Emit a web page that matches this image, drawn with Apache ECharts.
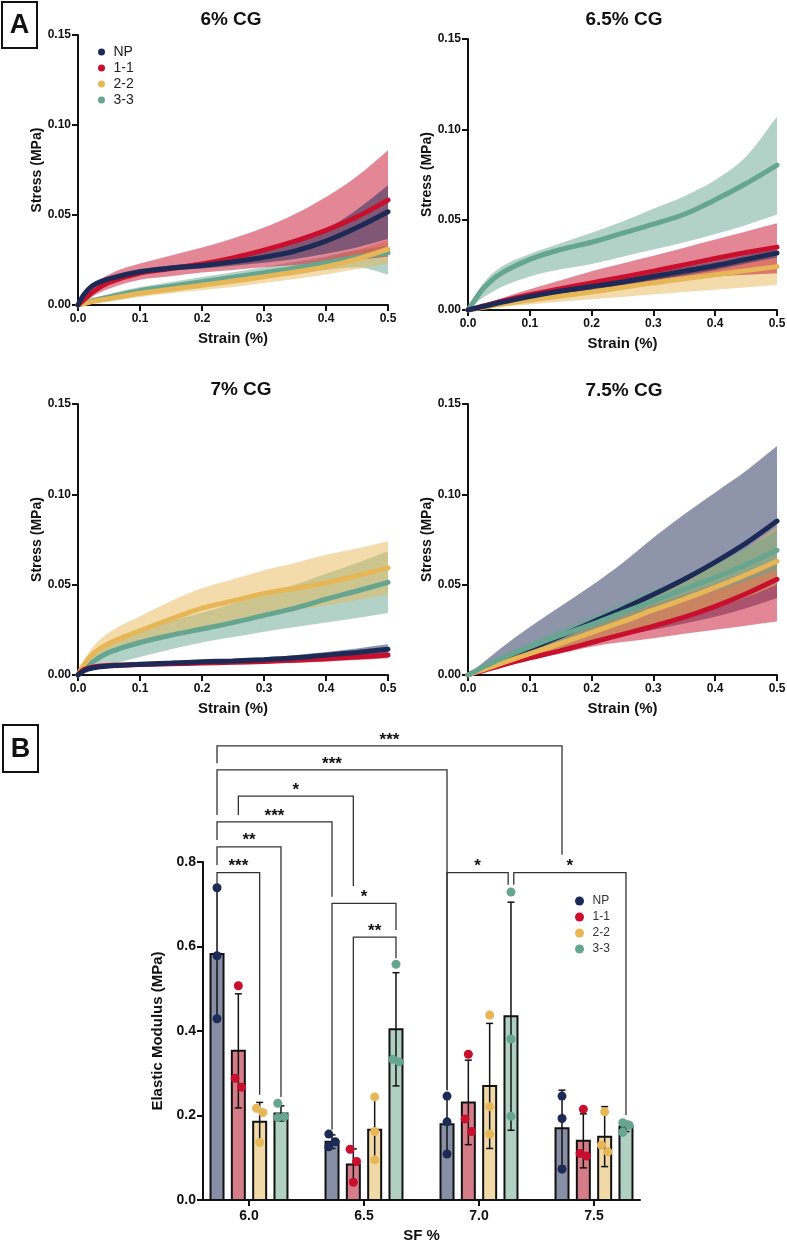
<!DOCTYPE html>
<html>
<head>
<meta charset="utf-8">
<script src="https://cdn.jsdelivr.net/npm/echarts@6/dist/echarts.min.js"></script>
<style>
  html, body { margin: 0; padding: 0; background: #fff; }
  #chart { width: 787px; height: 1243px; }
</style>
</head>
<body>
<div id="chart"></div>
<script>
// ---------- panel A : stress-strain curves (mean, upper, lower of the SD band) ----------
const strain = [0, 0.01, 0.025, 0.05, 0.1, 0.15, 0.2, 0.25, 0.3, 0.35, 0.4, 0.45, 0.5];

// 6% CG
const s6_np    = [0, 0.006, 0.011, 0.0145, 0.0185, 0.0205, 0.022, 0.024, 0.0265, 0.030, 0.0355, 0.043, 0.0518];
const s6_np_hi = [0, 0.007, 0.0125, 0.016, 0.020, 0.022, 0.0237, 0.0262, 0.0295, 0.0345, 0.042, 0.053, 0.0665];
const s6_np_lo = [0, 0.005, 0.0095, 0.013, 0.017, 0.019, 0.0203, 0.0218, 0.0235, 0.0255, 0.0285, 0.032, 0.0366];
const s6_11    = [0, 0.003, 0.0075, 0.0125, 0.0178, 0.0203, 0.0228, 0.0262, 0.0305, 0.0355, 0.0415, 0.049, 0.0583];
const s6_11_hi = [0, 0.0045, 0.011, 0.017, 0.023, 0.0275, 0.032, 0.037, 0.043, 0.0505, 0.060, 0.0715, 0.086];
const s6_11_lo = [0, 0.0015, 0.005, 0.009, 0.014, 0.016, 0.018, 0.0195, 0.021, 0.0222, 0.0233, 0.025, 0.027];
const s6_22    = [0, 0.0008, 0.002, 0.0035, 0.0065, 0.0088, 0.011, 0.0133, 0.0157, 0.0183, 0.0213, 0.0255, 0.031];
const s6_22_hi = [0, 0.0012, 0.003, 0.005, 0.0085, 0.0112, 0.0138, 0.0165, 0.0192, 0.0222, 0.0257, 0.0305, 0.036];
const s6_22_lo = [0, 0.0004, 0.001, 0.002, 0.0045, 0.0065, 0.0083, 0.010, 0.0122, 0.0145, 0.017, 0.020, 0.023];
const s6_33    = [0, 0.001, 0.0025, 0.0045, 0.008, 0.0105, 0.013, 0.0155, 0.018, 0.0205, 0.0235, 0.0265, 0.029];
const s6_33_hi = [0, 0.0015, 0.0035, 0.006, 0.010, 0.0128, 0.0155, 0.0182, 0.021, 0.024, 0.027, 0.0305, 0.033];
const s6_33_lo = [0, 0.0005, 0.0015, 0.003, 0.006, 0.0082, 0.0105, 0.0128, 0.015, 0.017, 0.0195, 0.021, 0.017];

// 6.5% CG
const s65_np    = [0, 0.0008, 0.002, 0.004, 0.0075, 0.0105, 0.013, 0.0155, 0.0185, 0.0215, 0.0245, 0.028, 0.0315];
const s65_np_hi = [0, 0.001, 0.0025, 0.005, 0.009, 0.012, 0.015, 0.0175, 0.0205, 0.0237, 0.0268, 0.0303, 0.034];
const s65_np_lo = [0, 0.0006, 0.0015, 0.003, 0.006, 0.009, 0.011, 0.0135, 0.0165, 0.0193, 0.0222, 0.0257, 0.029];
const s65_11    = [0, 0.0008, 0.0022, 0.0045, 0.0085, 0.0118, 0.015, 0.0182, 0.0215, 0.025, 0.0285, 0.0318, 0.0348];
const s65_11_hi = [0, 0.001, 0.003, 0.006, 0.0115, 0.0165, 0.0215, 0.0258, 0.030, 0.0345, 0.039, 0.0435, 0.048];
const s65_11_lo = [0, 0.0005, 0.0013, 0.003, 0.006, 0.0085, 0.011, 0.013, 0.015, 0.0168, 0.0185, 0.0195, 0.0204];
const s65_22    = [0, 0.0006, 0.0015, 0.003, 0.0055, 0.0078, 0.010, 0.0125, 0.015, 0.0173, 0.0195, 0.0218, 0.024];
const s65_22_hi = [0, 0.0009, 0.0022, 0.0045, 0.0082, 0.0112, 0.014, 0.017, 0.020, 0.0228, 0.0253, 0.0272, 0.029];
const s65_22_lo = [0, 0.0003, 0.0008, 0.0015, 0.003, 0.0045, 0.006, 0.0072, 0.0087, 0.010, 0.0112, 0.0126, 0.0139];
const s65_33    = [0, 0.005, 0.012, 0.0195, 0.028, 0.0335, 0.0375, 0.0425, 0.0475, 0.053, 0.061, 0.070, 0.0802];
const s65_33_hi = [0, 0.0065, 0.015, 0.023, 0.031, 0.037, 0.0428, 0.049, 0.056, 0.063, 0.072, 0.085, 0.107];
const s65_33_lo = [0, 0.003, 0.007, 0.012, 0.0185, 0.0225, 0.0255, 0.0295, 0.0335, 0.0375, 0.042, 0.047, 0.0528];

// 7% CG
const s7_np    = [0, 0.0025, 0.004, 0.005, 0.006, 0.0066, 0.0073, 0.0078, 0.0085, 0.0095, 0.011, 0.0125, 0.0143];
const s7_np_hi = [0, 0.003, 0.0047, 0.0058, 0.0068, 0.0075, 0.0083, 0.009, 0.0098, 0.011, 0.0127, 0.0147, 0.017];
const s7_np_lo = [0, 0.002, 0.0033, 0.0042, 0.0052, 0.0057, 0.0063, 0.0068, 0.0073, 0.008, 0.0093, 0.0105, 0.012];
const s7_11    = [0, 0.003, 0.0045, 0.0053, 0.0058, 0.0062, 0.0066, 0.007, 0.0075, 0.0082, 0.009, 0.010, 0.011];
const s7_11_hi = [0, 0.0035, 0.0052, 0.006, 0.0066, 0.0071, 0.0076, 0.0081, 0.0087, 0.0096, 0.0106, 0.0118, 0.0128];
const s7_11_lo = [0, 0.0025, 0.0038, 0.0046, 0.005, 0.0053, 0.0056, 0.0059, 0.0063, 0.0068, 0.0074, 0.0083, 0.0093];
const s7_22    = [0, 0.006, 0.012, 0.0175, 0.0245, 0.031, 0.037, 0.041, 0.0452, 0.048, 0.051, 0.055, 0.0593];
const s7_22_hi = [0, 0.008, 0.016, 0.0235, 0.0325, 0.041, 0.048, 0.053, 0.058, 0.062, 0.0665, 0.070, 0.074];
const s7_22_lo = [0, 0.004, 0.008, 0.012, 0.0175, 0.022, 0.0265, 0.030, 0.033, 0.036, 0.0385, 0.0415, 0.0445];
const s7_33    = [0, 0.003, 0.0075, 0.0125, 0.018, 0.022, 0.0255, 0.029, 0.033, 0.037, 0.042, 0.0465, 0.0513];
const s7_33_hi = [0, 0.005, 0.011, 0.0175, 0.0245, 0.030, 0.0345, 0.0395, 0.0445, 0.050, 0.056, 0.062, 0.0685];
const s7_33_lo = [0, 0.0008, 0.0025, 0.0055, 0.010, 0.0142, 0.018, 0.021, 0.024, 0.0265, 0.029, 0.0315, 0.0343];

// 7.5% CG
const s75_np    = [0, 0.0015, 0.0036, 0.0072, 0.0145, 0.0215, 0.029, 0.0365, 0.0445, 0.053, 0.0625, 0.073, 0.0852];
const s75_np_hi = [0, 0.0028, 0.007, 0.014, 0.0265, 0.038, 0.0495, 0.062, 0.076, 0.089, 0.101, 0.113, 0.1267];
const s75_np_lo = [0, 0.0012, 0.003, 0.006, 0.0115, 0.015, 0.0185, 0.0218, 0.025, 0.0285, 0.0322, 0.037, 0.0426];
const s75_11    = [0, 0.0012, 0.0025, 0.005, 0.0095, 0.0135, 0.018, 0.0225, 0.027, 0.032, 0.038, 0.045, 0.053];
const s75_11_hi = [0, 0.002, 0.0045, 0.0085, 0.016, 0.0225, 0.0285, 0.034, 0.039, 0.0445, 0.0505, 0.057, 0.064];
const s75_11_lo = [0, 0.0008, 0.002, 0.004, 0.0083, 0.012, 0.0157, 0.0182, 0.0204, 0.0228, 0.025, 0.0273, 0.0296];
const s75_22    = [0, 0.0013, 0.003, 0.006, 0.0118, 0.0175, 0.0235, 0.0295, 0.036, 0.042, 0.0485, 0.0555, 0.063];
const s75_22_hi = [0, 0.0018, 0.0045, 0.0085, 0.016, 0.023, 0.030, 0.0375, 0.045, 0.053, 0.061, 0.070, 0.082];
const s75_22_lo = [0, 0.001, 0.0022, 0.0045, 0.009, 0.0135, 0.018, 0.0225, 0.0275, 0.0325, 0.0375, 0.043, 0.050];
const s75_33    = [0, 0.0018, 0.0045, 0.0085, 0.0155, 0.022, 0.028, 0.0345, 0.041, 0.0475, 0.054, 0.061, 0.069];
const s75_33_hi = [0, 0.0022, 0.0055, 0.010, 0.018, 0.0255, 0.0325, 0.040, 0.047, 0.054, 0.0615, 0.070, 0.080];
const s75_33_lo = [0, 0.0014, 0.0035, 0.007, 0.013, 0.0185, 0.0235, 0.029, 0.035, 0.041, 0.0465, 0.052, 0.058];

// ---------- panel B : elastic modulus ----------
const sfGroups = [6.0, 6.5, 7.0, 7.5];
const modNP  = [0.582, 0.138, 0.179, 0.170];
const sdNP   = [0.155, 0.016, 0.068, 0.090];
const ptsNP  = [[0.739, 0.578, 0.429], [0.156, 0.138, 0.126], [0.246, 0.185, 0.109], [0.246, 0.193, 0.073]];
const mod11  = [0.353, 0.084, 0.231, 0.140];
const sd11   = [0.135, 0.037, 0.100, 0.064];
const pts11  = [[0.507, 0.288, 0.267], [0.120, 0.091, 0.042], [0.345, 0.192, 0.162], [0.215, 0.110, 0.104]];
const mod22  = [0.185, 0.166, 0.270, 0.150];
const sd22   = [0.046, 0.075, 0.148, 0.071];
const pts22  = [[0.217, 0.207, 0.136], [0.244, 0.162, 0.095], [0.438, 0.221, 0.156], [0.209, 0.130, 0.114]];
const mod33  = [0.205, 0.404, 0.435, 0.174];
const sd33   = [0.018, 0.134, 0.270, 0.012];
const pts33  = [[0.229, 0.197, 0.195], [0.558, 0.333, 0.327], [0.729, 0.381, 0.198], [0.183, 0.177, 0.160]];

// significance brackets: [groupA, barA, groupB, barB, top, legA end, legB end, label]
const sigPairs = [
  [0, 0, 3, 0, 1.075, 1.034, 0.817, '***'],
  [0, 0, 2, 0, 1.018, 0.911, 0.260, '***'],
  [0, 1, 1, 1, 0.956, 0.911, 0.743, '*'],
  [0, 0, 1, 0, 0.895, 0.852, 0.718, '***'],
  [0, 0, 0, 3, 0.836, 0.793, 0.244, '**'],
  [0, 0, 0, 2, 0.775, 0.741, 0.249, '***'],
  [1, 0, 1, 3, 0.702, 0.166, 0.639, '*'],
  [1, 1, 1, 3, 0.622, 0.126, 0.572, '**'],
  [2, 0, 2, 3, 0.775, 0.260, 0.746, '*'],
  [2, 3, 3, 3, 0.775, 0.746, 0.201, '*']
];

const names = ['NP', '1-1', '2-2', '3-3'];
const lineColor = { 'NP': '#1e2a56', '1-1': '#c8102e', '2-2': '#e7b757', '3-3': '#66a58f' };
const barFill = { 'NP': '#878fa6', '1-1': '#d57c89', '2-2': '#f0d9a6', '3-3': '#b0d0c4' };
const FONT = '"Liberation Sans", Arial, sans-serif';

const curves = [
  { 'NP': [s6_np, s6_np_hi, s6_np_lo], '1-1': [s6_11, s6_11_hi, s6_11_lo], '2-2': [s6_22, s6_22_hi, s6_22_lo], '3-3': [s6_33, s6_33_hi, s6_33_lo] },
  { 'NP': [s65_np, s65_np_hi, s65_np_lo], '1-1': [s65_11, s65_11_hi, s65_11_lo], '2-2': [s65_22, s65_22_hi, s65_22_lo], '3-3': [s65_33, s65_33_hi, s65_33_lo] },
  { 'NP': [s7_np, s7_np_hi, s7_np_lo], '1-1': [s7_11, s7_11_hi, s7_11_lo], '2-2': [s7_22, s7_22_hi, s7_22_lo], '3-3': [s7_33, s7_33_hi, s7_33_lo] },
  { 'NP': [s75_np, s75_np_hi, s75_np_lo], '1-1': [s75_11, s75_11_hi, s75_11_lo], '2-2': [s75_22, s75_22_hi, s75_22_lo], '3-3': [s75_33, s75_33_hi, s75_33_lo] }
];
// drawing order in each panel (last one on top)
const drawOrder = [
  ['3-3', '2-2', '1-1', 'NP'],
  ['3-3', '2-2', '1-1', 'NP'],
  ['3-3', '2-2', '1-1', 'NP'],
  ['NP', '1-1', '2-2', '3-3']
];

const grids = [
  { left: 78, top: 35, width: 310, height: 270 },
  { left: 468, top: 39, width: 309, height: 271 },
  { left: 78, top: 404, width: 310, height: 271 },
  { left: 468, top: 404, width: 309, height: 271 },
  { left: 203, top: 862, width: 437, height: 338 }
].map(g => Object.assign({ containLabel: false, outerBoundsMode: 'none' }, g));

const axisLineStyle = { show: true, lineStyle: { color: '#111', width: 2 } };
const tickStyle = { show: true, length: 6, lineStyle: { color: '#111', width: 2 } };
const boldLabel = (size, margin) => ({ fontFamily: FONT, fontWeight: 'bold', fontSize: size, color: '#111', margin });

const xAxes = [], yAxes = [];
for (let i = 0; i < 4; i++) {
  xAxes.push({
    type: 'value', gridIndex: i, min: 0, max: 0.5, interval: 0.1,
    axisLine: axisLineStyle, axisTick: tickStyle, splitLine: { show: false },
    axisLabel: Object.assign(boldLabel(12, 8), { formatter: v => v.toFixed(1) }),
    name: 'Strain (%)', nameLocation: 'middle', nameGap: 26,
    nameTextStyle: { fontFamily: FONT, fontWeight: 'bold', fontSize: 15, color: '#111' }
  });
  yAxes.push({
    type: 'value', gridIndex: i, min: 0, max: 0.15, interval: 0.05,
    axisLine: axisLineStyle, axisTick: tickStyle, splitLine: { show: false },
    axisLabel: Object.assign(boldLabel(12, 7), { formatter: v => v.toFixed(2) }),
    name: 'Stress (MPa)', nameLocation: 'middle', nameGap: 34,
    nameTextStyle: { fontFamily: FONT, fontWeight: 'bold', fontSize: 14, color: '#111' }
  });
}
xAxes.push({
  type: 'value', gridIndex: 4, min: 5.8, max: 7.7,
  axisLine: axisLineStyle, splitLine: { show: false },
  axisTick: Object.assign({}, tickStyle, { customValues: sfGroups }),
  axisLabel: Object.assign(boldLabel(14, 9), { customValues: sfGroups, formatter: v => v.toFixed(1) }),
  name: 'SF %', nameLocation: 'middle', nameGap: 28,
  nameTextStyle: { fontFamily: FONT, fontWeight: 'bold', fontSize: 15, color: '#111' }
});
yAxes.push({
  type: 'value', gridIndex: 4, min: 0, max: 0.8, interval: 0.2,
  axisLine: axisLineStyle, axisTick: tickStyle, splitLine: { show: false },
  axisLabel: Object.assign(boldLabel(14, 7), { formatter: v => v.toFixed(1) }),
  name: 'Elastic Modulus (MPa)', nameLocation: 'middle', nameGap: 33,
  nameTextStyle: { fontFamily: FONT, fontWeight: 'bold', fontSize: 15, color: '#111' }
});

// monotone cubic through pixel points, as bezier segments (no overshoot)
function curveTo(pts) {
  const n = pts.length, s = [], m = [];
  for (let i = 0; i < n - 1; i++) s[i] = (pts[i + 1][1] - pts[i][1]) / (pts[i + 1][0] - pts[i][0]);
  m[0] = s[0]; m[n - 1] = s[n - 2];
  for (let i = 1; i < n - 1; i++) m[i] = s[i - 1] * s[i] <= 0 ? 0 : (s[i - 1] + s[i]) / 2;
  for (let i = 0; i < n - 1; i++) {
    if (s[i] === 0) { m[i] = 0; m[i + 1] = 0; continue; }
    const a = m[i] / s[i], b = m[i + 1] / s[i], h = a * a + b * b;
    if (h > 9) { const t = 3 / Math.sqrt(h); m[i] = t * a * s[i]; m[i + 1] = t * b * s[i]; }
  }
  let d = '';
  for (let i = 0; i < n - 1; i++) {
    const h = (pts[i + 1][0] - pts[i][0]) / 3;
    d += ' C' + (pts[i][0] + h) + ',' + (pts[i][1] + m[i] * h) +
         ' ' + (pts[i + 1][0] - h) + ',' + (pts[i + 1][1] - m[i + 1] * h) +
         ' ' + pts[i + 1][0] + ',' + pts[i + 1][1];
  }
  return d;
}

const series = [];

// curves: SD band as a filled path, then the mean line
curves.forEach((panel, gi) => {
  drawOrder[gi].forEach(nm => {
    const [mean, hi, lo] = panel[nm];
    const c = lineColor[nm];
    series.push({
      type: 'custom', name: nm + ' sd', xAxisIndex: gi, yAxisIndex: gi, silent: true,
      encode: { x: 0, y: [1, 2] },
      data: strain.map((s, k) => [s, lo[k], hi[k]]),
      renderItem: (params, api) => {
        if (params.dataIndex !== 0) return null;
        const up = strain.map((s, k) => api.coord([s, hi[k]]));
        const dn = strain.map((s, k) => api.coord([s, lo[k]])).reverse();
        const d = 'M' + up[0][0] + ',' + up[0][1] + curveTo(up) +
                  ' L' + dn[0][0] + ',' + dn[0][1] + curveTo(dn) + ' Z';
        return { type: 'path', shape: { pathData: d }, style: { fill: c, opacity: 0.5 } };
      }
    });
    series.push({
      type: 'line', name: nm, xAxisIndex: gi, yAxisIndex: gi,
      data: strain.map((s, k) => [s, mean[k]]), symbol: 'none', smooth: 0.3,
      itemStyle: { color: c }, lineStyle: { width: 5, color: c, cap: 'round' }
    });
  });
});

// bars with SD error bars
const slot = 0.0927;     // spacing between bars in a group (SF units)
const barW = 0.0565;     // bar width (SF units)
const jitterStep = 0.014;
const barMeans = [modNP, mod11, mod22, mod33];
const barSds = [sdNP, sd11, sd22, sd33];
const barPts = [ptsNP, pts11, pts22, pts33];
const barX = (g, k) => sfGroups[g] + (k - 1.5) * slot;

names.forEach((nm, k) => {
  series.push({
    type: 'custom', name: nm + ' bar', xAxisIndex: 4, yAxisIndex: 4, silent: true,
    encode: { x: 0, y: 1 },
    data: sfGroups.map((g, gi) => [barX(gi, k), barMeans[k][gi], barSds[k][gi]]),
    renderItem: (params, api) => {
      const x = api.value(0), m = api.value(1), sd = api.value(2);
      const w = api.size([barW, 0])[0];
      const p = api.coord([x, m]), b = api.coord([x, 0]);
      const yHi = api.coord([x, m + sd])[1], yLo = api.coord([x, Math.max(m - sd, 0)])[1];
      const cw = 3.5;
      const ls = { stroke: '#111', lineWidth: 1.5 };
      return {
        type: 'group', children: [
          { type: 'rect', shape: { x: p[0] - w / 2, y: p[1], width: w, height: b[1] - p[1] },
            style: { fill: barFill[nm], stroke: '#111', lineWidth: 2 } },
          { type: 'line', shape: { x1: p[0], y1: yHi, x2: p[0], y2: yLo }, style: ls },
          { type: 'line', shape: { x1: p[0] - cw, y1: yHi, x2: p[0] + cw, y2: yHi }, style: ls },
          { type: 'line', shape: { x1: p[0] - cw, y1: yLo, x2: p[0] + cw, y2: yLo }, style: ls }
        ]
      };
    }
  });
});

// nudge overlapping replicate dots sideways
function jitter(vals) {
  const idx = vals.map((v, i) => i).sort((a, b) => vals[b] - vals[a]);
  const out = vals.map(() => 0);
  for (let j = 1; j < idx.length; j++) {
    if (Math.abs(vals[idx[j]] - vals[idx[j - 1]]) < 0.035) {
      if (out[idx[j - 1]] === 0) out[idx[j - 1]] = -1;
      out[idx[j]] = -out[idx[j - 1]];
    }
  }
  return out;
}

names.forEach((nm, k) => {
  const data = [];
  barPts[k].forEach((vals, gi) => {
    const j = jitter(vals);
    vals.forEach((v, n) => data.push([barX(gi, k) + j[n] * jitterStep, v]));
  });
  series.push({
    type: 'scatter', name: nm, xAxisIndex: 4, yAxisIndex: 4, data,
    symbol: 'circle', symbolSize: 9, itemStyle: { color: lineColor[nm], opacity: 1 }, z: 5
  });
});

// significance brackets
series.push({
  type: 'custom', name: 'sig', xAxisIndex: 4, yAxisIndex: 4, silent: true, clip: false, z: 6,
  encode: { x: [0, 1], y: [2] },
  data: sigPairs.map(p => [barX(p[0], p[1]), barX(p[2], p[3]), p[4], p[5], p[6]]),
  renderItem: (params, api) => {
    const label = sigPairs[params.dataIndex][7];
    const xa = api.value(0), xb = api.value(1), top = api.value(2);
    // leave a small gap where two brackets at the same height share a bar
    let insA = 0, insB = 0;
    sigPairs.forEach((q, i) => {
      if (i === params.dataIndex || q[4] !== top) return;
      if (barX(q[2], q[3]) === xa) insA = 2.8;
      if (barX(q[0], q[1]) === xb) insB = 2.8;
    });
    const a = api.coord([xa, top]), b = api.coord([xb, top]);
    const ya = api.coord([xa, api.value(3)])[1], yb = api.coord([xb, api.value(4)])[1];
    const ax = a[0] + insA, bx = b[0] - insB;
    return {
      type: 'group', children: [
        { type: 'polyline', shape: { points: [[ax, ya], [ax, a[1]], [bx, a[1]], [bx, yb]] },
          style: { stroke: '#333', lineWidth: 1.3, fill: null } },
        { type: 'text', x: (ax + bx) / 2, y: a[1] - 6,
          style: { text: label, font: 'bold 17px ' + FONT, fill: '#111',
                   align: 'center', textAlign: 'center', verticalAlign: 'middle', textVerticalAlign: 'middle' } }
      ]
    };
  }
});

const legendBase = {
  orient: 'vertical', icon: 'circle', padding: 0, selectedMode: false,
  itemStyle: { borderWidth: 0 },
  data: names.map(n => ({ name: n, itemStyle: { color: lineColor[n], borderWidth: 0 } }))
};

const titleText = (txt, x, y) => ({
  type: 'text', x, y,
  style: { text: txt, font: 'bold 19px ' + FONT, fill: '#111',
           align: 'center', textAlign: 'center', verticalAlign: 'middle', textVerticalAlign: 'middle' }
});
const panelTag = (txt, x, y, w, h) => ([
  { type: 'rect', shape: { x, y, width: w, height: h }, style: { fill: '#fff', stroke: '#111', lineWidth: 2 } },
  { type: 'text', x: x + w / 2, y: y + h / 2 + 1,
    style: { text: txt, font: 'bold 27px ' + FONT, fill: '#111',
             align: 'center', textAlign: 'center', verticalAlign: 'middle', textVerticalAlign: 'middle' } }
]);

const option = {
  animation: false,
  backgroundColor: '#fff',
  grid: grids,
  xAxis: xAxes,
  yAxis: yAxes,
  legend: [
    Object.assign({}, legendBase, { left: 98, top: 45, itemWidth: 14, itemHeight: 7, itemGap: 2,
      textStyle: { fontFamily: FONT, fontSize: 14, color: '#222' } }),
    Object.assign({}, legendBase, { left: 575, top: 895, itemWidth: 16, itemHeight: 9, itemGap: 4,
      textStyle: { fontFamily: FONT, fontSize: 12, color: '#333' } })
  ],
  graphic: [
    titleText('6% CG', 231, 20),
    titleText('6.5% CG', 624, 20),
    titleText('7% CG', 241, 390),
    titleText('7.5% CG', 624, 391)
  ].concat(panelTag('A', 2, 2, 35, 46), panelTag('B', 3, 725, 35, 47)),
  series
};

const chart = echarts.init(document.getElementById('chart'), null, { renderer: 'canvas' });
chart.setOption(option);
</script>
</body>
</html>
